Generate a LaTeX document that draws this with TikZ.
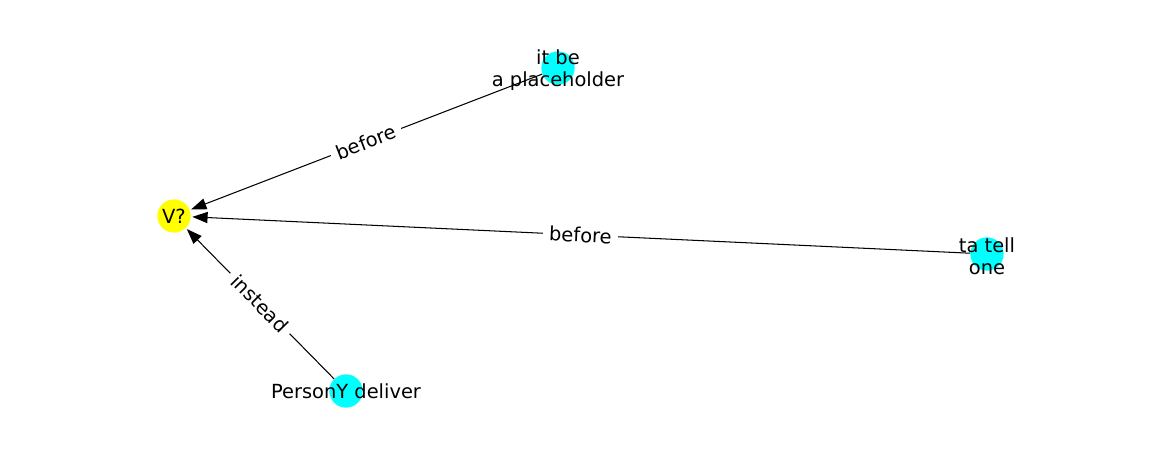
\documentclass[tikz,border=0pt]{standalone}
\usepackage{fontspec}
\setmainfont{DejaVu Sans}
\usetikzlibrary{arrows.meta}
\definecolor{tuerkis}{RGB}{0,255,255}
\definecolor{gelb}{RGB}{255,255,0}

\begin{document}
\begin{tikzpicture}[x=0.72pt,y=-0.72pt,
  knoten/.style={circle,inner sep=0pt,minimum size=24pt},
  kante/.style={-{Triangle[length=11pt,width=8pt]},black,line width=0.75pt,shorten >=1pt},
  kantentext/.style={fill=white,inner sep=4.5pt,font=\fontsize{14}{16}\selectfont,sloped},
  beschriftung/.style={font=\fontsize{14}{16}\selectfont,align=center,inner sep=0pt}
]
\useasboundingbox (0,0) rectangle (1162,462);
%Knoten
\node[knoten,fill=gelb] (vq) at (174,216) {};
\node[knoten,fill=tuerkis] (platz) at (558,68) {};
\node[knoten,fill=tuerkis] (tell) at (987,254) {};
\node[knoten,fill=tuerkis] (person) at (346,391) {};
%Kanten
\draw[kante] (platz) -- node[kantentext] {before} (vq);
\draw[kante] (tell) -- node[kantentext] {before} (vq);
\draw[kante] (person) -- node[kantentext] {instead} (vq);
%Beschriftung
\node[beschriftung] (vqtext) at (vq) {V?};
\node[beschriftung] (platztext) at ([yshift=-1.5]platz) {it be\\a placeholder};
\node[beschriftung] (telltext) at ([yshift=-1.5]tell) {ta tell\\one};
\node[beschriftung] (persontext) at (person) {PersonY deliver};
\end{tikzpicture}
\end{document}
